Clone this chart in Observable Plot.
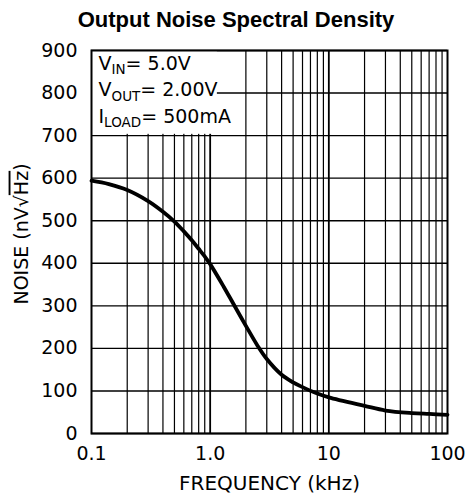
<!DOCTYPE html>
<html><head><meta charset="utf-8">
<script src="https://cdn.jsdelivr.net/npm/d3@7"></script>
<script src="https://cdn.jsdelivr.net/npm/@observablehq/plot@0.6"></script>
<style>
body{margin:0;background:#fff;}
#title{width:466px;height:40px;font:bold 22px "Liberation Sans",Arial,sans-serif;text-align:center;line-height:40px;padding-left:6px;box-sizing:border-box;color:#000;}
</style></head><body>
<div id="title">Output Noise Spectral Density</div>
<div id="chart"></div>
<script>
const freq  = [0.1, 0.14, 0.2, 0.3, 0.4, 0.5, 0.6, 0.7, 0.8, 0.9, 1.0, 1.3, 1.56, 2, 2.5, 3, 4, 5, 6, 8, 10, 20, 30, 50, 70, 100];
const noise = [594, 586, 572, 546, 521, 498, 475, 454, 434, 416, 398, 345, 306, 253, 207, 175, 138, 120, 109, 94, 85, 65, 54, 48, 46, 44];
const xTicks = [0.1, 1, 10, 100];
const xTickLabels = ["0.1", "1.0", "10", "100"];
const yTicks = [0, 100, 200, 300, 400, 500, 600, 700, 800, 900];
const gridMajor = [1, 10];
const gridMinor = [0.2,0.3,0.4,0.5,0.6,0.7,0.8,0.9,2,3,4,5,6,7,8,9,20,30,40,50,60,70,80,90];
const legendMain = ["V", "V", "I"];
const legendSub = ["IN", "OUT", "LOAD"];
const legendValue = ["= 5.0V", "= 2.00V", "= 500mA"];
const legendY = [869, 807, 744];
const xLabel = "FREQUENCY (kHz)";
const yLabel = "NOISE (nV√Hz)";

const data = freq.map((f, i) => ({f, n: noise[i]}));
const legend = legendMain.map((m, i) => ({m, s: legendSub[i], v: legendValue[i], y: legendY[i]}));
const font = "'DejaVu Sans', sans-serif";

const chart = Plot.plot({
  width: 466, height: 460,
  marginTop: 10, marginBottom: 67, marginLeft: 91, marginRight: 19,
  style: {fontFamily: font, fontSize: "19px", color: "#000", background: "#fff"},
  x: {type: "log", domain: [0.1, 100]},
  y: {domain: [0, 900]},
  marks: [
    Plot.ruleX(gridMinor, {stroke: "#000", strokeWidth: 1.2}),
    Plot.ruleX(gridMajor, {stroke: "#000", strokeWidth: 1.8}),
    Plot.ruleY(yTicks, {stroke: "#000", strokeWidth: 1.4}),
    Plot.rect([{x1: 0.1, x2: 1.15, y1: 703, y2: 900}], {x1: "x1", x2: "x2", y1: "y1", y2: "y2", fill: "#fff"}),
    Plot.line(data, {x: "f", y: "n", stroke: "#000", strokeWidth: 3.8, curve: "catmull-rom"}),
    Plot.frame({stroke: "#000", strokeWidth: 2}),
    Plot.text(legend, {x: () => 0.1, y: "y", text: d => d.m + d.s + d.v, dx: 7, textAnchor: "start", fontSize: 19}),
    Plot.axisX({ticks: xTicks, tickFormat: (d) => xTickLabels[xTicks.indexOf(d)], tickSize: 0, tickPadding: 13, label: null}),
    Plot.axisY({ticks: yTicks, tickSize: 0, tickPadding: 14, label: null}),
    Plot.text([xLabel], {frameAnchor: "bottom", textAnchor: "middle", lineAnchor: "middle", dy: 50, fontSize: 20, text: d => d}),
    Plot.text([yLabel], {frameAnchor: "left", textAnchor: "middle", lineAnchor: "middle", dx: -70, dy: -8, rotate: -90, text: d => d})
  ]
});
document.getElementById("chart").appendChild(chart);

const svg = d3.select(chart.tagName.toLowerCase() === "svg" ? chart : chart.querySelector("svg"));
svg.selectAll("text").each(function() {
  const t = this.textContent;
  const row = legend.find(d => d.m + d.s + d.v === t);
  const el = d3.select(this);
  if (row) {
    el.text(null);
    el.append("tspan").text(row.m);
    el.append("tspan").attr("dy", 4.5).attr("font-size", 13.5).text(row.s);
    el.append("tspan").attr("dy", -4.5).text(row.v);
  } else if (t === yLabel) {
    el.text(null);
    el.append("tspan").text("NOISE (nV√");
    el.append("tspan").style("text-decoration", "overline").text("Hz");
    el.append("tspan").text(")");
  }
});
</script>
</body></html>
